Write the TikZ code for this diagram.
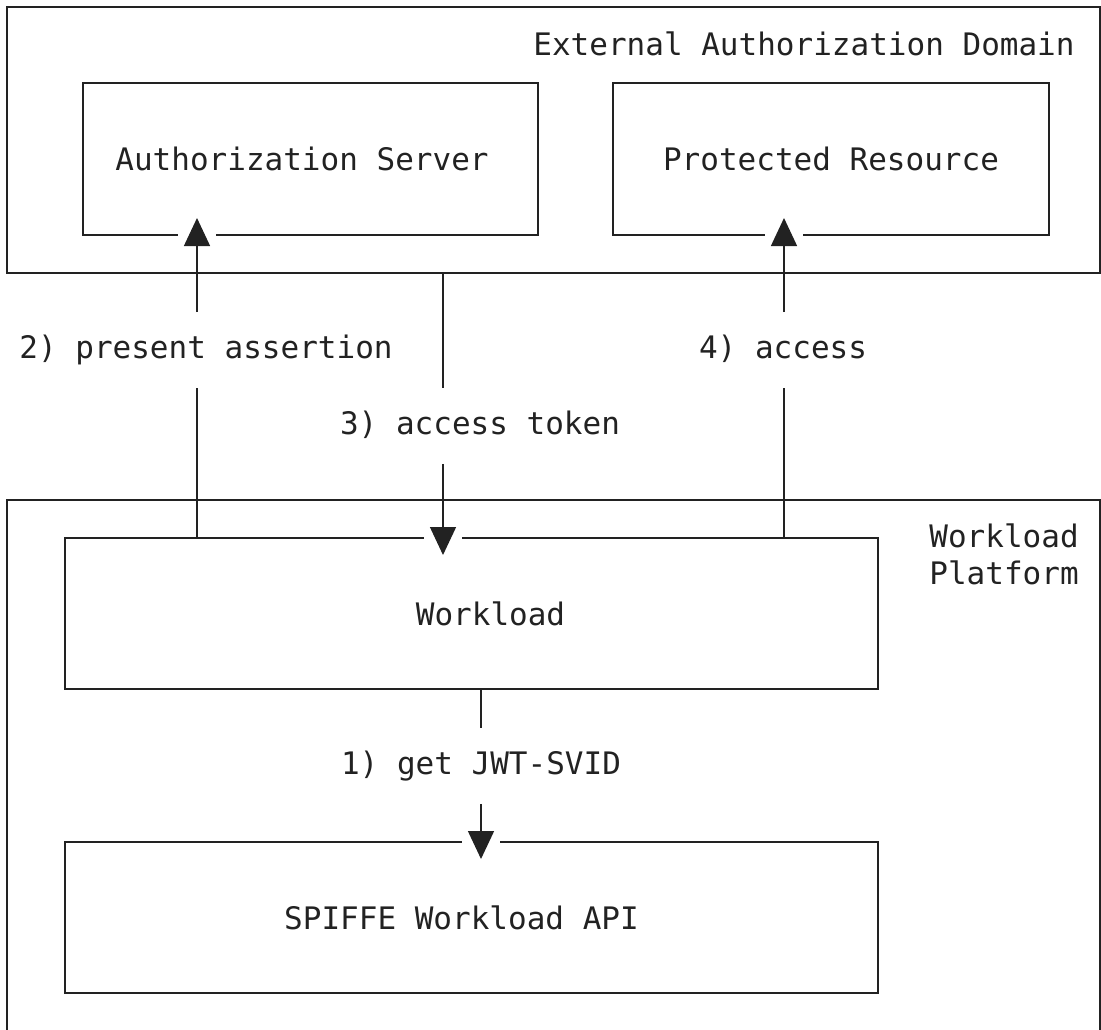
\documentclass[tikz,border=0pt]{standalone}
\usepackage{fontspec}
\newfontfamily\dmono{DejaVu Sans Mono}
\usetikzlibrary{arrows.meta,calc}
\definecolor{ink}{HTML}{222222}
\begin{document}
\begin{tikzpicture}[x=0.5pt,y=-0.5pt,
  every node/.style={font=\dmono\fontsize{15.5}{18.5}\selectfont, text=ink},
  box/.style={draw=ink, line width=1pt, inner sep=0pt},
  conn/.style={draw=ink, line width=0.7pt},
  arr/.style={conn, -{Triangle[width=13pt,length=14pt]}, shorten >=-9pt},
  lbl/.style={inner xsep=0pt, inner ysep=10.75pt, text height=12pt, text depth=4pt},
  halo/.style={fill=white}]
\useasboundingbox (0,0) rectangle (1101,1029);
% containers
\node[box, minimum width=546.5pt, minimum height=133pt] (ext) at (553.5,140) {};
\node[anchor=base east, inner sep=0pt] (extlbl) at (1075,55) {External Authorization Domain};
\begin{scope}
  \clip (0,0) rectangle (1101,1029);
  \node[box, minimum width=546.5pt, minimum height=270pt] (platform) at (553.5,770) {};
\end{scope}
\node[anchor=north west, inner sep=0pt, align=left] (platlbl) at (929,523) {Workload\\Platform};
% boxes
\node[box, minimum width=227.5pt, minimum height=76pt] (authsrv) at (310.5,159) {Authorization Server\hspace*{8.5pt}};
\node[box, minimum width=218pt, minimum height=76pt] (protres) at (831,159) {Protected Resource};
\node[box, minimum width=406.5pt, minimum height=75.5pt] (workload) at (471.5,613.5) {\hspace*{19pt}Workload};
\node[box, minimum width=406.5pt, minimum height=75.5pt] (spiffe) at (471.5,917.5) {SPIFFE Workload API\hspace*{10pt}};
% labels
\node[lbl] (l2) at (206,350) {2) present assertion};
\node[lbl] (l3) at (480,426) {3) access token};
\node[lbl] (l4) at (783,350) {4) access};
\node[lbl] (l1) at (481,766) {1) get JWT-SVID};
% line x positions
\coordinate (x2) at (197,0);
\coordinate (x3) at (443,0);
\coordinate (x4) at (784,0);
\coordinate (x1) at (481,0);
% halos
\fill[halo] ($(authsrv.south -| x2)+(-19,-4)$) rectangle ($(authsrv.south -| x2)+(19,4)$);
\fill[halo] ($(protres.south -| x4)+(-19,-4)$) rectangle ($(protres.south -| x4)+(19,4)$);
\fill[halo] ($(workload.north -| x3)+(-19,-4)$) rectangle ($(workload.north -| x3)+(19,4)$);
\fill[halo] ($(spiffe.north -| x1)+(-19,-4)$) rectangle ($(spiffe.north -| x1)+(19,4)$);
% connectors
\draw[conn] (workload.north -| x2) -- (l2.south -| x2);
\draw[arr] (l2.north -| x2) -- (authsrv.south -| x2);
\draw[conn] (ext.south -| x3) -- (l3.north -| x3);
\draw[arr] (l3.south -| x3) -- (workload.north -| x3);
\draw[conn] (workload.north -| x4) -- (l4.south -| x4);
\draw[arr] (l4.north -| x4) -- (protres.south -| x4);
\draw[conn] (workload.south -| x1) -- (l1.north -| x1);
\draw[arr] (l1.south -| x1) -- (spiffe.north -| x1);
\end{tikzpicture}
\end{document}
